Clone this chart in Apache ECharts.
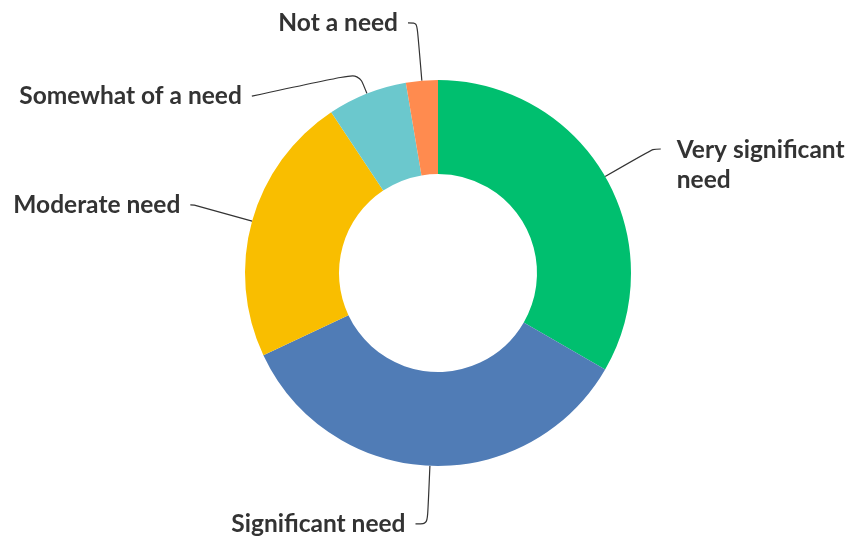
<!DOCTYPE html>
<html>
<head>
<meta charset="utf-8">
<script src="https://cdn.jsdelivr.net/npm/echarts@6/dist/echarts.min.js"></script>
<style>
html,body{margin:0;padding:0;background:#fff;}
#chart{width:856px;height:538px;}
</style>
</head>
<body>
<div id="chart"></div>
<script>
const categories = ["Very significant need", "Significant need", "Moderate need", "Somewhat of a need", "Not a need"];
const counts = [25, 26, 17, 5, 2];
const colors = ["#00BF6F", "#507CB6", "#F9BE00", "#6BC8CD", "#FF8B4F"];
// label line styling per slice
const lineLen = [55, 58, 60, 22, 58];
const lineLen2 = [8, 12, 4, 107, 9];
const labelShift = [16, 0, 0, 23, 0];
const labelGap = [16, 10, 10, 10, 10];

const data = categories.map((name, i) => ({
  name: name,
  value: counts[i],
  itemStyle: { color: colors[i] },
  label: { distanceToLabelLine: labelGap[i] },
  labelLine: { length: lineLen[i], length2: lineLen2[i] }
}));

const chart = echarts.init(document.getElementById('chart'), null, { renderer: 'canvas' });
chart.setOption({
  animation: false,
  series: [{
    type: 'pie',
    center: [438, 273],
    radius: [99, 193],
    startAngle: 90,
    clockwise: true,
    avoidLabelOverlap: false,
    data: data,
    label: {
      show: true,
      position: 'outside',
      formatter: function (p) {
        return p.dataIndex === 0 ? p.name.replace(/ (\S+)$/, '\n$1') : p.name;
      },
      fontFamily: 'Lato',
      fontWeight: 'bold',
      fontSize: 24.5,
      color: '#333333',
      lineHeight: 30
    },
    labelLine: {
      show: true,
      smooth: 0.3,
      lineStyle: { color: '#333333', width: 1.2 }
    },
    labelLayout: function (p) {
      const s = labelShift[p.dataIndex];
      if (!s || !p.labelLinePoints) return {};
      const pts = p.labelLinePoints.map(q => [q[0], q[1]]);
      if (p.dataIndex === 3) {
        pts[2][1] += s;
      }
      return { dy: s, labelLinePoints: pts };
    },
    emphasis: { disabled: true }
  }]
});
</script>
</body>
</html>
